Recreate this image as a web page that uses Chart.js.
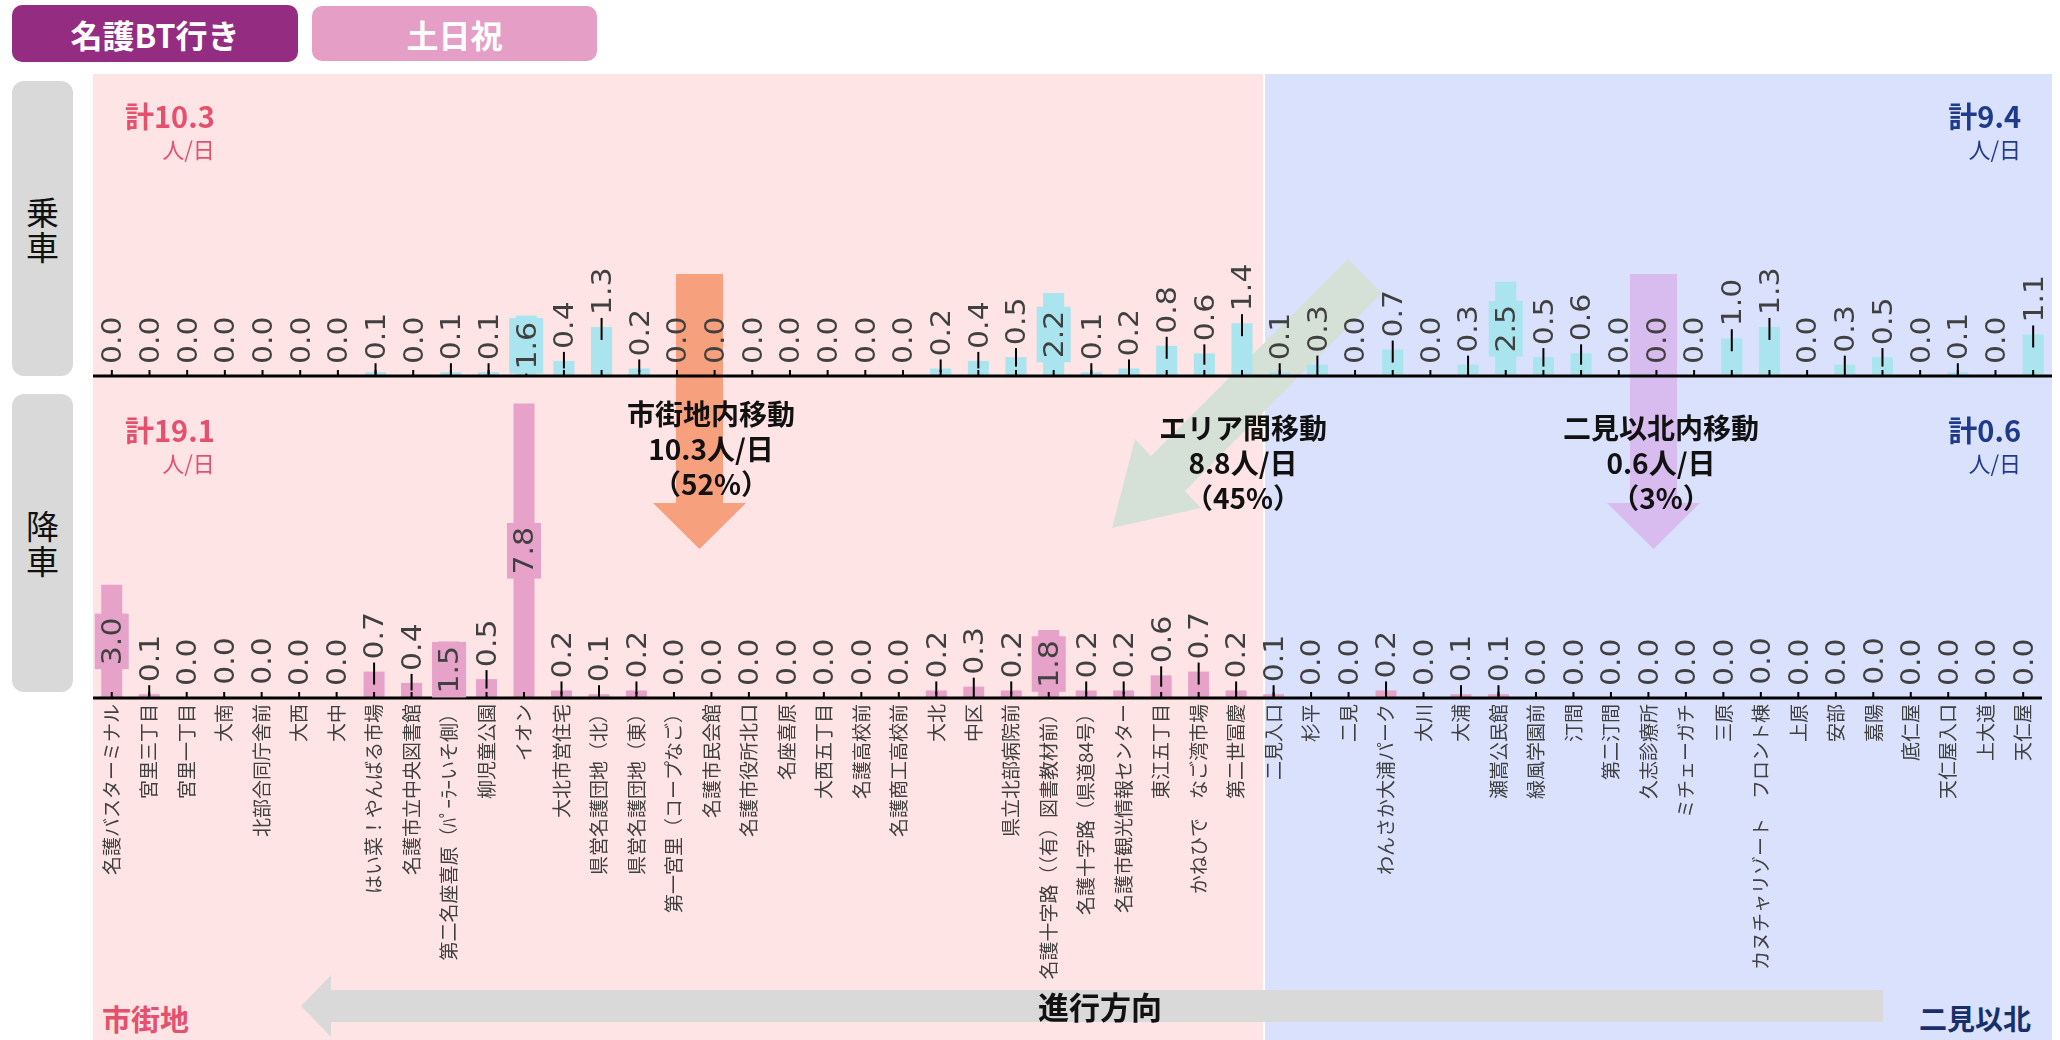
<!DOCTYPE html>
<html lang="ja">
<head>
<meta charset="utf-8">
<title>名護BT行き 土日祝</title>
<script src="https://cdn.jsdelivr.net/npm/chart.js@4/dist/chart.umd.min.js"></script>
<style>
  html, body { margin: 0; padding: 0; background: #fff; }
  body { width: 2060px; height: 1040px; position: relative; overflow: hidden; font-family: "Noto Sans CJK JP", sans-serif; }
  .box { position: absolute; }
  .tag { position: absolute; border-radius: 10px; color: #fff; font-weight: bold; font-size: 32px; display: flex; align-items: center; justify-content: center; }
  .side { position: absolute; left: 12px; width: 61px; background: #d9d9d9; border-radius: 12px; display: flex; align-items: center; justify-content: center; font-size: 33px; line-height: 1.05; color: #111; text-align: center; }
  .total { position: absolute; text-align: right; z-index: 3; }
  .total .a { font-size: 29px; font-weight: bold; line-height: 34px; }
  .total .b { font-size: 22px; line-height: 32px; }
  .flow { position: absolute; width: 320px; text-align: center; font-size: 28px; font-weight: bold; line-height: 35px; color: #111; z-index: 3; }
  canvas { position: absolute; z-index: 2; }
  svg { position: absolute; left: 0; top: 0; z-index: 1; }
</style>
</head>
<body>

<div class="tag" style="left:12px;top:5px;width:286px;height:57px;background:#942d82;">名護BT行き</div>
<div class="tag" style="left:312px;top:6px;width:285px;height:55px;background:#e59ec6;">土日祝</div>

<!-- 背景（市街地 / 二見以北） -->
<div class="box" style="left:93px;top:74px;width:1170px;height:966px;background:#ffe4e6;"></div>
<div class="box" style="left:1265px;top:74px;width:787px;height:966px;background:#dae1fd;"></div>

<div class="side" style="top:81px;height:295px;">乗<br>車</div>
<div class="side" style="top:394px;height:298px;">降<br>車</div>

<svg width="2060" height="1040">
  <polygon points="676,274 723,274 723,503 746,503 699.5,549 653,503 676,503" fill="#f7a07e"/>
  <polygon points="1630,274 1677,274 1677,503 1700,503 1653.5,549 1607,503 1630,503" fill="#d9bcef"/>
  <polygon points="1348,259 1382,293 1185,491 1201,508 1112,528 1135,439 1151,456" fill="#d5e0d6"/>
  <polygon points="1883,990 1883,1022 331,1022 331,1037 301,1006 331,975 331,990" fill="#d9d9d9"/>
</svg>

<canvas id="upper" width="1959" height="308" style="left:93px;top:74px;"></canvas>
<canvas id="lower" width="1959" height="591" style="left:93px;top:396px;"></canvas>

<div class="total" id="t1" style="left:125px;top:98px;color:#e5506d;"></div>
<div class="total" id="t2" style="right:39px;top:98px;color:#1e3a8a;"></div>
<div class="total" id="t3" style="left:125px;top:412px;color:#e5506d;"></div>
<div class="total" id="t4" style="right:39px;top:412px;color:#1e3a8a;"></div>

<div class="flow" id="f1" style="left:551px;top:396px;"></div>
<div class="flow" id="f2" style="left:1083px;top:410px;"></div>
<div class="flow" id="f3" style="left:1501px;top:410px;"></div>

<div class="box" style="left:1000px;top:986px;width:200px;text-align:center;font-size:31px;font-weight:bold;line-height:40px;color:#111;z-index:3;">進行方向</div>
<div class="box" style="left:102px;top:999px;font-size:29px;font-weight:bold;line-height:38px;color:#e5506d;z-index:3;">市街地</div>
<div class="box" style="right:29px;top:999px;font-size:28px;font-weight:bold;line-height:38px;color:#17306b;z-index:3;">二見以北</div>

<script>
// バス停（名護BT行きの逆順で並ぶ）
const stops = ['名護バスターミナル', '宮里三丁目', '宮里一丁目', '大南', '北部合同庁舎前', '大西', '大中',
  'はい菜！やんばる市場', '名護市立中央図書館', '第二名座喜原（ﾊﾟｰﾗｰいそ側）', '柳児童公園', 'イオン', '大北市営住宅',
  '県営名護団地（北）', '県営名護団地（東）', '第一宮里（コープなご）', '名護市民会館', '名護市役所北口', '名座喜原',
  '大西五丁目', '名護高校前', '名護商工高校前', '大北', '中区', '県立北部病院前', '名護十字路（（有）図書教材前）',
  '名護十字路（県道84号）', '名護市観光情報センター', '東江五丁目', 'かねひで　なご湾市場', '第二世冨慶',
  '二見入口', '杉平', '二見', 'わんさか大浦パーク', '大川', '大浦', '瀬嵩公民館', '緑風学園前', '汀間', '第二汀間',
  '久志診療所', 'ミチェーガチ', '三原', 'カヌチャリゾート　フロント棟', '上原', '安部', '嘉陽', '底仁屋',
  '天仁屋入口', '上大道', '天仁屋'];

// 乗車人数（人/日）
const boarding = [0, 0, 0, 0, 0, 0, 0, 0.1, 0, 0.1, 0.1, 1.6, 0.4, 1.3, 0.2, 0, 0, 0, 0, 0, 0, 0, 0.2, 0.4, 0.5, 2.2, 0.1, 0.2, 0.8, 0.6, 1.4,
  0.1, 0.3, 0, 0.7, 0, 0.3, 2.5, 0.5, 0.6, 0, 0, 0, 1.0, 1.3, 0, 0.3, 0.5, 0, 0.1, 0, 1.1];

// 降車人数（人/日）
const alighting = [3.0, 0.1, 0, 0.03, 0.03, 0, 0, 0.7, 0.4, 1.5, 0.5, 7.8, 0.2, 0.1, 0.2, 0, 0, 0, 0, 0, 0, 0, 0.2, 0.3, 0.2, 1.8, 0.2, 0.2, 0.6, 0.7, 0.2,
  0.1, 0, 0, 0.2, 0, 0.1, 0.1, 0, 0, 0, 0, 0, 0, 0.03, 0, 0, 0.03, 0, 0, 0, 0];

// 合計（市街地, 二見以北）
const boardTotals = ['10.3', '9.4'];
const alightTotals = ['19.1', '0.6'];

// 移動の内訳
const flowNames = ['市街地内移動', 'エリア間移動', '二見以北内移動'];
const flowValues = ['10.3', '8.8', '0.6'];
const flowShares = ['52', '45', '3'];

const yMax = 8;

function setTotal(id, val) {
  document.getElementById(id).innerHTML = '<div class="a">計' + val + '</div><div class="b">人/日</div>';
}
setTotal('t1', boardTotals[0]);
setTotal('t2', boardTotals[1]);
setTotal('t3', alightTotals[0]);
setTotal('t4', alightTotals[1]);

flowNames.forEach(function (name, i) {
  document.getElementById('f' + (i + 1)).innerHTML =
    name + '<br>' + flowValues[i] + '人/日<br>（' + flowShares[i] + '%）';
});

// 軸線・目盛・データラベル（引き出し線つき）
const LABEL_FONT = 26;
const STRETCH = 1.15;
const barLabels = {
  id: 'barLabels',
  afterDatasetsDraw(chart) {
    const ctx = chart.ctx;
    const meta = chart.getDatasetMeta(0);
    const ds = chart.data.datasets[0];
    const base = chart.scales.y.getPixelForValue(0);
    const area = chart.chartArea;
    ctx.save();
    ctx.strokeStyle = '#000';
    ctx.lineWidth = 3;
    ctx.beginPath();
    ctx.moveTo(area.left, base);
    ctx.lineTo(area.right, base);
    ctx.stroke();
    ctx.lineWidth = 2;
    meta.data.forEach(function (bar) {
      ctx.beginPath();
      ctx.moveTo(bar.x, base);
      ctx.lineTo(bar.x, base - 6);
      ctx.stroke();
    });

    ctx.font = LABEL_FONT + 'px "DejaVu Sans"';
    meta.data.forEach(function (bar, i) {
      const v = ds.data[i];
      const txt = v.toFixed(1);
      const h = base - bar.y;
      const tw = ctx.measureText(txt).width * STRETCH;
      if (h >= tw + 8) {
        // 棒の中央に塗りつぶしラベル
        const cy = (bar.y + base) / 2;
        ctx.fillStyle = ds.backgroundColor;
        ctx.fillRect(bar.x - 17, cy - (tw + 8) / 2, 34, tw + 8);
        ctx.save();
        ctx.translate(bar.x, cy);
        ctx.rotate(-Math.PI / 2);
        ctx.scale(STRETCH, 1);
        ctx.textAlign = 'center';
        ctx.fillStyle = '#404040';
        ctx.fillText(txt, 0, LABEL_FONT * 0.36);
        ctx.restore();
      } else {
        const bottom = bar.y - 12;
        ctx.save();
        ctx.translate(bar.x, bottom);
        ctx.rotate(-Math.PI / 2);
        ctx.scale(STRETCH, 1);
        ctx.textAlign = 'left';
        ctx.fillStyle = '#404040';
        ctx.fillText(txt, 0, LABEL_FONT * 0.36);
        ctx.restore();
        if (Math.round(v * 10) > 0) {
          ctx.strokeStyle = '#000';
          ctx.lineWidth = 2;
          ctx.beginPath();
          ctx.moveTo(bar.x, bottom + 3);
          ctx.lineTo(bar.x, Math.min(bottom + 25, bar.y + h / 2));
          ctx.stroke();
        }
      }
    });
    ctx.restore();
  }
};

function makeChart(id, values, color, showLabels) {
  const xAxis = {
    display: showLabels,
    grid: { display: false, drawTicks: false },
    border: { display: false },
    ticks: {
      autoSkip: false,
      minRotation: 90,
      maxRotation: 90,
      padding: 6,
      color: '#404040',
      font: { family: '"Noto Sans CJK JP"', size: 19 }
    }
  };
  if (showLabels) {
    // 長いバス停名は下端で切れる
    xAxis.afterFit = function (scale) { scale.height = 289; };
  }
  return new Chart(document.getElementById(id), {
    type: 'bar',
    data: {
      labels: stops,
      datasets: [{ data: values, backgroundColor: color, barPercentage: 0.56, categoryPercentage: 1 }]
    },
    options: {
      responsive: false,
      animation: false,
      layout: { padding: { left: 0, right: 0, top: 0, bottom: showLabels ? 0 : 6 } },
      plugins: { legend: { display: false }, tooltip: { enabled: false } },
      scales: {
        y: { display: false, min: 0, max: yMax },
        x: xAxis
      }
    },
    plugins: [barLabels]
  });
}

makeChart('upper', boarding, '#aae4ee', false);
makeChart('lower', alighting, '#e6a2c8', true);
</script>
</body>
</html>
